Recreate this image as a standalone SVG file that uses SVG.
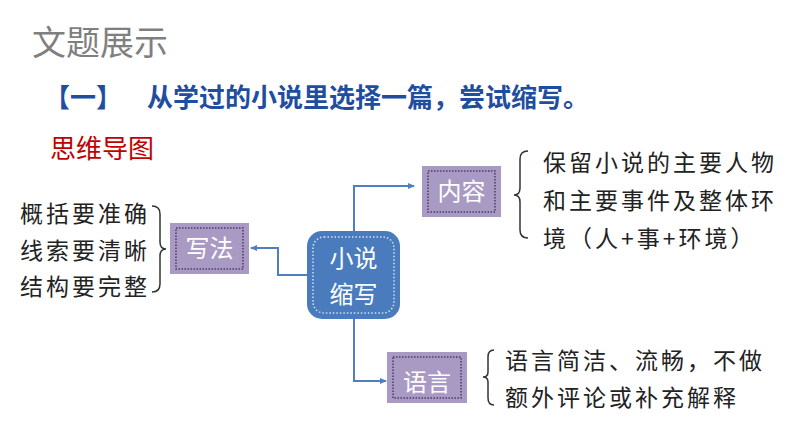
<svg xmlns="http://www.w3.org/2000/svg" width="794" height="447" viewBox="0 0 794 447">
<style>
.t{font-family:"Noto Sans CJK SC","Liberation Sans",sans-serif}
.b{font-size:23px;fill:#222;letter-spacing:3px}
.box{fill:#a99ac4}
.dot{fill:none;stroke:#4b3a6a;stroke-width:1.5;stroke-dasharray:1.5 1.5}
.bl{font-size:24px;fill:#fff}
.c{fill:none;stroke:#4f7fc0;stroke-width:2}
.br{fill:none;stroke:#333;stroke-width:1.5}
</style>
<defs><marker id="a" markerWidth="8" markerHeight="8" refX="6" refY="4" orient="auto" markerUnits="userSpaceOnUse"><path d="M0,1 L7,4 L0,7Z" fill="#4f7fc0"/></marker></defs>
<rect width="794" height="447" fill="#fff"/>
<text class="t" x="32" y="55" font-size="34" fill="#7f7f7f">文题展示</text>
<text class="t" x="44" y="107" font-size="26" fill="#1f4ea0" font-weight="bold">【一】</text>
<text class="t" x="147" y="107" font-size="26" fill="#1f4ea0" font-weight="bold">从学过的小说里选择一篇，尝试缩写。</text>
<text class="t" x="50" y="158" font-size="26" fill="#c00000">思维导图</text>
<g id="connectors">
<path class="c" d="M354,231 V186 H414" marker-end="url(#a)"/>
<path class="c" d="M307,275 H278 V248 H251" marker-end="url(#a)"/>
<path class="c" d="M354,319 V381 H386" marker-end="url(#a)"/>
</g>
<g id="center"><rect x="307" y="231" width="93" height="88" rx="15" fill="#4a7cbd"/><rect x="313" y="237" width="81" height="76" rx="11" fill="none" stroke="#cfe0f5" stroke-width="1.5" stroke-dasharray="1.5 2"/>
<text class="t bl" x="353.5" y="267" text-anchor="middle">小说</text><text class="t bl" x="353.5" y="303" text-anchor="middle">缩写</text></g>
<g id="neirong"><rect class="box" x="422" y="166" width="79" height="51"/><rect class="dot" x="428" y="171" width="67" height="41"/><text class="t bl" x="461.5" y="200" text-anchor="middle">内容</text></g>
<g id="xiefa"><rect class="box" x="170" y="223" width="79" height="51"/><rect class="dot" x="176" y="228" width="67" height="41"/><text class="t bl" x="209.5" y="257" text-anchor="middle">写法</text></g>
<g id="yuyan"><rect class="box" x="387" y="352" width="80" height="51"/><rect class="dot" x="393" y="357" width="68" height="41"/><text class="t bl" x="427" y="391" text-anchor="middle">语言</text></g>
<g id="left"><path class="br" d="M152,206 Q160,206 160,214 V242 Q160,249 166,249 Q160,249 160,256 V284 Q160,292 152,292"/>
<text class="t b" x="20" y="222">概括要准确</text><text class="t b" x="20" y="259">线索要清晰</text><text class="t b" x="20" y="295">结构要完整</text></g>
<g id="right1"><path class="br" d="M528,151 Q520,151 520,159 V188 Q520,195 514,195 Q520,195 520,202 V230 Q520,238 528,238"/>
<text class="t b" x="543" y="171">保留小说的主要人物</text><text class="t b" x="543" y="209">和主要事件及整体环</text><text class="t b" x="543" y="247">境（人+事+环境）</text></g>
<g id="right2"><path class="br" d="M494,350 Q488,350 488,357 V372 Q488,377 483,377 Q488,377 488,382 V398 Q488,405 494,405"/>
<text class="t b" x="505" y="369">语言简洁、流畅，不做</text><text class="t b" x="505" y="406">额外评论或补充解释</text></g>
</svg>
